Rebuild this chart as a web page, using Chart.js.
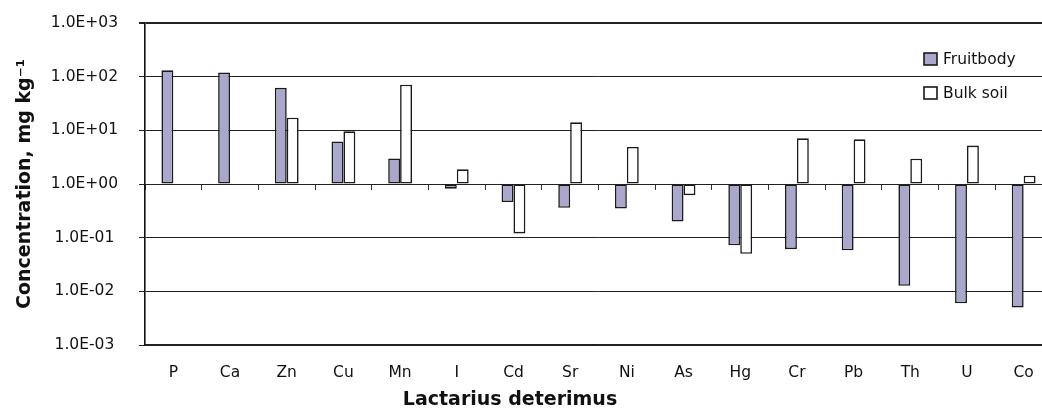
<!DOCTYPE html>
<html>
<head>
<meta charset="utf-8">
<title>Lactarius deterimus</title>
<script src="https://cdn.jsdelivr.net/npm/chart.js@4.4.1/dist/chart.umd.min.js"></script>
<style>
    html, body {
        margin: 0;
        padding: 0;
        overflow: hidden;
        background: #ffffff;
    }
    #wrap {
        width: 1062px;
        height: 412px;
        position: relative;
    }
</style>
</head>
<body>
<div id="wrap"><canvas id="elementChart"></canvas></div>
<script>
var categories = ["P", "Ca", "Zn", "Cu", "Mn", "I", "Cd", "Sr", "Ni", "As", "Hg", "Cr", "Pb", "Th", "U", "Co"];
var fruitbody = [131, 119, 62, 6.2, 3.0, 0.82, 0.46, 0.36, 0.35, 0.20, 0.072, 0.061, 0.058, 0.0127, 0.006, 0.005];
var bulkSoil = [null, null, 17.2, 9.6, 71, 1.88, 0.12, 14.1, 4.9, 0.62, 0.05, 7.1, 6.8, 2.96, 5.2, 1.43];
var yTickValues = [0.001, 0.01, 0.1, 1, 10, 100, 1000];
var yTickLabels = ["1.0E-03", "1.0E-02", "1.0E-01", "1.0E+00", "1.0E+01", "1.0E+02", "1.0E+03"];

var FONT = "'DejaVu Sans', sans-serif";

// legend and x title are drawn by hand, the original has them placed freely
var extrasPlugin = {
    id: "extras",
    afterDraw: function (chart) {
        var ctx = chart.ctx;
        ctx.save();
        ctx.fillStyle = "#111";
        ctx.font = "bold 19px " + FONT;
        ctx.textAlign = "center";
        ctx.textBaseline = "middle";
        ctx.fillText("Lactarius deterimus", 510, 400);

        var rows = [53, 87];
        ctx.font = "15.5px " + FONT;
        ctx.textAlign = "left";
        for (var i = 0; i < chart.data.datasets.length; i++) {
            var ds = chart.data.datasets[i];
            ctx.fillStyle = ds.backgroundColor;
            ctx.fillRect(924, rows[i], 13, 12);
            ctx.strokeStyle = "#1a1a1a";
            ctx.lineWidth = 1.6;
            ctx.strokeRect(924, rows[i], 13, 12);
            ctx.fillStyle = "#111";
            ctx.fillText(ds.label, 943, rows[i] + 7);
        }
        ctx.restore();
    }
};

new Chart("elementChart", {
    type: "bar",
    data: {
        labels: categories,
        datasets: [{
                label: "Fruitbody",
                data: fruitbody,
                base: 1,
                backgroundColor: "#a9a8cc",
                borderColor: "#1a1a1a",
                borderWidth: 1.6,
                borderSkipped: false,
                barPercentage: 1,
                categoryPercentage: 0.42
            }, {
                label: "Bulk soil",
                data: bulkSoil,
                base: 1,
                backgroundColor: "#ffffff",
                borderColor: "#1a1a1a",
                borderWidth: 1.6,
                borderSkipped: false,
                barPercentage: 1,
                categoryPercentage: 0.42
            }]
    },
    options: {
        responsive: true,
        maintainAspectRatio: false,
        animation: false,
        layout: {
            padding: {top: 23, right: 10, bottom: 0, left: 0}
        },
        plugins: {
            legend: {display: false},
            tooltip: {enabled: false}
        },
        scales: {
            x: {
                type: "category",
                position: "bottom",
                offset: true,
                grid: {display: false, offset: true},
                border: {display: true, color: "#222", width: 1.3},
                ticks: {
                    color: "#111",
                    font: {family: FONT, size: 15.5},
                    padding: 11,
                    maxRotation: 0,
                    autoSkip: false
                },
                afterFit: function (scale) {
                    scale.height = 67;
                }
            },
            xTicks: {
                type: "category",
                axis: "x",
                position: {y: 1},
                offset: true,
                grid: {
                    display: true,
                    offset: true,
                    drawOnChartArea: false,
                    drawTicks: true,
                    tickLength: 6,
                    color: "#333",
                    tickWidth: 1
                },
                border: {display: false},
                ticks: {display: false},
                afterFit: function (scale) {
                    scale.height = 0;
                }
            },
            y: {
                type: "logarithmic",
                min: 0.001,
                max: 1000,
                afterBuildTicks: function (scale) {
                    scale.ticks = yTickValues.map(function (v) {
                        return {value: v};
                    });
                },
                grid: {
                    color: "#222",
                    lineWidth: function (c) {
                        return c.tick && c.tick.value === 1000 ? 2 : 1;
                    },
                    tickLength: 6,
                    drawTicks: true
                },
                border: {display: true, color: "#111", width: 1.6},
                ticks: {
                    color: "#111",
                    font: {family: FONT, size: 15.5},
                    crossAlign: "center",
                    padding: 21,
                    callback: function (value) {
                        var i = yTickValues.indexOf(value);
                        return i >= 0 ? yTickLabels[i] : "";
                    }
                },
                title: {
                    display: true,
                    text: "Concentration, mg kg\u207B\u00B9",
                    color: "#111",
                    font: {family: FONT, size: 19, weight: "bold"},
                    padding: {top: 14, bottom: 0}
                },
                afterFit: function (scale) {
                    scale.width = 145;
                    // tick padding would otherwise push the plot down
                    scale.paddingTop = 10;
                    scale.paddingBottom = 10;
                }
            }
        }
    },
    plugins: [extrasPlugin]
});
</script>
</body>
</html>
